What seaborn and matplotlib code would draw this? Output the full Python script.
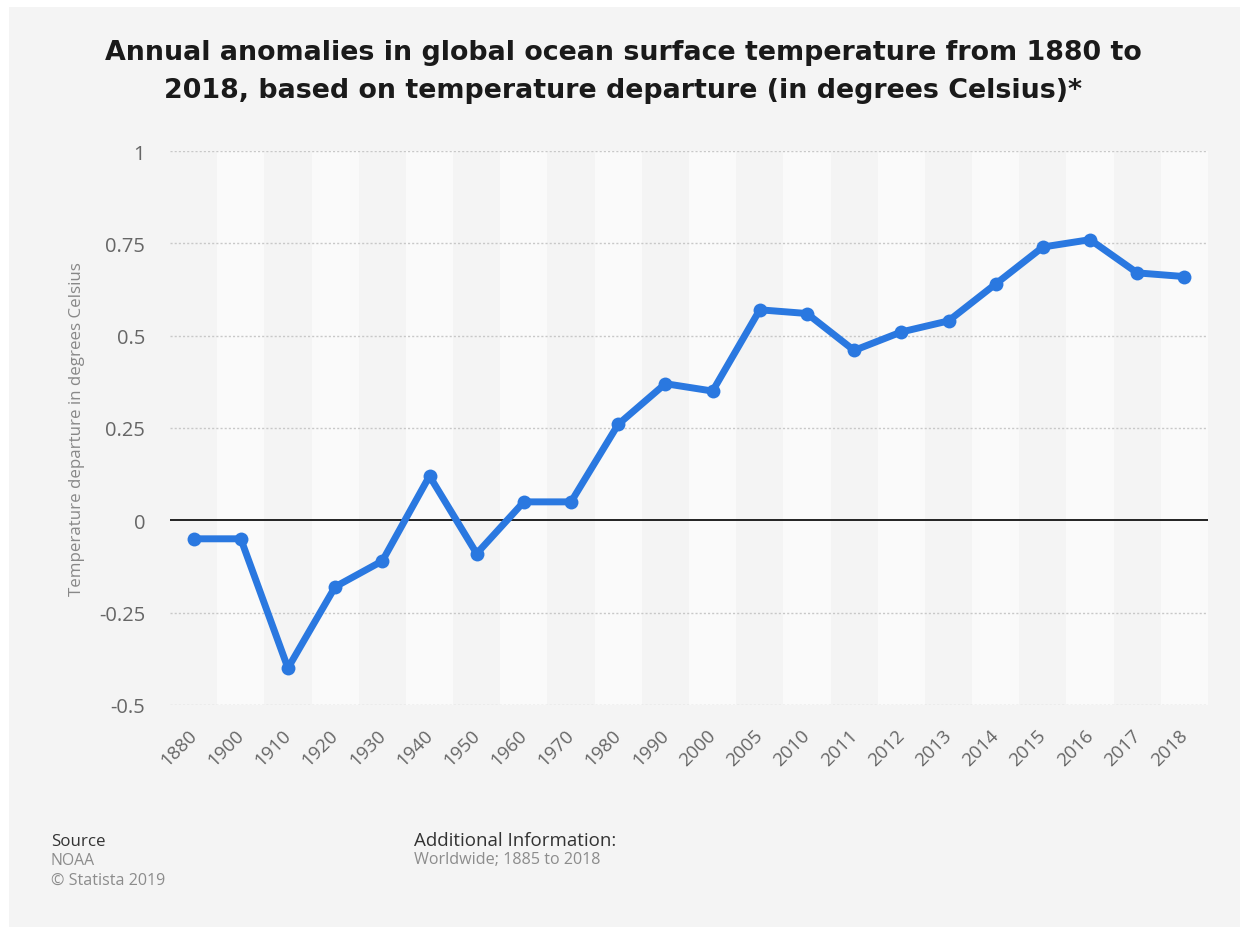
import matplotlib
matplotlib.use("Agg")
import matplotlib.pyplot as plt
import matplotlib.transforms as mtransforms
import seaborn as sns
import pandas as pd
from matplotlib.patches import Rectangle

# Ocean surface temperature anomalies (degrees Celsius)
years = ["1880", "1900", "1910", "1920", "1930", "1940", "1950", "1960", "1970",
         "1980", "1990", "2000", "2005", "2010", "2011", "2012", "2013", "2014",
         "2015", "2016", "2017", "2018"]
anomalies = [-0.05, -0.05, -0.40, -0.18, -0.11, 0.12, -0.09, 0.05, 0.05,
             0.26, 0.37, 0.35, 0.57, 0.56, 0.46, 0.51, 0.54, 0.64,
             0.74, 0.76, 0.67, 0.66]
y_ticks = [-0.5, -0.25, 0, 0.25, 0.5, 0.75, 1]
y_tick_labels = ["-0.5", "-0.25", "0", "0.25", "0.5", "0.75", "1"]

title = ("Annual anomalies in global ocean surface temperature from 1880 to\n"
         "2018, based on temperature departure (in degrees Celsius)*")
y_label = "Temperature departure in degrees Celsius"

sns.set_theme(style="white")
plt.rcParams["font.family"] = ["Open Sans", "DejaVu Sans"]

BG = "#f4f4f4"
BAND = "#fafafa"
BLUE = "#2a78e0"
TICK = "#666666"

W, H = 1246, 928
fig = plt.figure(figsize=(W / 100, H / 100), dpi=100, facecolor="white")
fig.patches.append(Rectangle((9 / W, 0), 1 - 15 / W, 1 - 8 / H,
                             transform=fig.transFigure, facecolor=BG,
                             edgecolor="none", zorder=-10))

ax = fig.add_axes([170 / W, 1 - 706 / H, 1038 / W, 554 / H])
ax.set_facecolor(BG)

df = pd.DataFrame({"year": years, "anomaly": anomalies})

# alternating column shading behind the line
for i in range(len(years)):
    if i % 2 == 1:
        ax.axvspan(i - 0.5, i + 0.5, facecolor=BAND, edgecolor="none", zorder=0)

for t in y_ticks:
    if t == 0:
        ax.axhline(t, color="#111111", lw=1.3, zorder=1)
    else:
        ax.axhline(t, color="#c8c8c8", lw=1.0, ls=(0, (1.5, 1.5)), zorder=1)

sns.lineplot(data=df, x="year", y="anomaly", sort=False, ax=ax, color=BLUE,
             lw=5, marker="o", markersize=10, markeredgewidth=0, zorder=3)

ax.set_xlim(-0.5, len(years) - 0.5)
ax.set_ylim(-0.5, 1)
ax.set_yticks(y_ticks)
ax.set_yticklabels(y_tick_labels)
ax.tick_params(axis="y", labelsize=14.5, labelcolor=TICK, length=0, pad=18)
ax.tick_params(axis="x", labelsize=13.5, labelcolor=TICK, length=0, pad=15)
ax.set_xticks(range(len(years)))
ax.set_xticklabels(years, rotation=45, ha="right", va="top",
                   rotation_mode="anchor")
# nudge the slanted year labels so they end right at their column
shift = mtransforms.ScaledTranslation(-6 / 100, 0, fig.dpi_scale_trans)
for lbl in ax.get_xticklabels():
    lbl.set_transform(lbl.get_transform() + shift)
ax.set_xlabel("")
ax.set_ylabel(y_label, fontsize=12.2, color="#888888")
ax.yaxis.set_label_coords(-85 / 1038, 0.5)
for s in ax.spines.values():
    s.set_visible(False)

fig.text(0.5, 1 - 72 / H, title, ha="center", va="center",
         fontsize=19.4, fontweight="bold", color="#1a1a1a",
         family="DejaVu Sans", linespacing=1.6)

fig.text(51 / W, 1 - 846 / H, "Source", fontsize=12.2, color="#333333",
         va="baseline")
fig.text(51 / W, 1 - 865 / H, "NOAA", fontsize=11.3, color="#8c8c8c",
         va="baseline")
fig.text(51 / W, 1 - 885 / H, "\u00a9 Statista 2019", fontsize=11.6,
         color="#8c8c8c", va="baseline")
fig.text(414 / W, 1 - 846 / H, "Additional Information:", fontsize=13.5,
         color="#333333", va="baseline")
fig.text(414 / W, 1 - 864 / H, "Worldwide; 1885 to 2018", fontsize=11.6,
         color="#8c8c8c", va="baseline")

fig.savefig("out.png", dpi=100, facecolor=fig.get_facecolor())
